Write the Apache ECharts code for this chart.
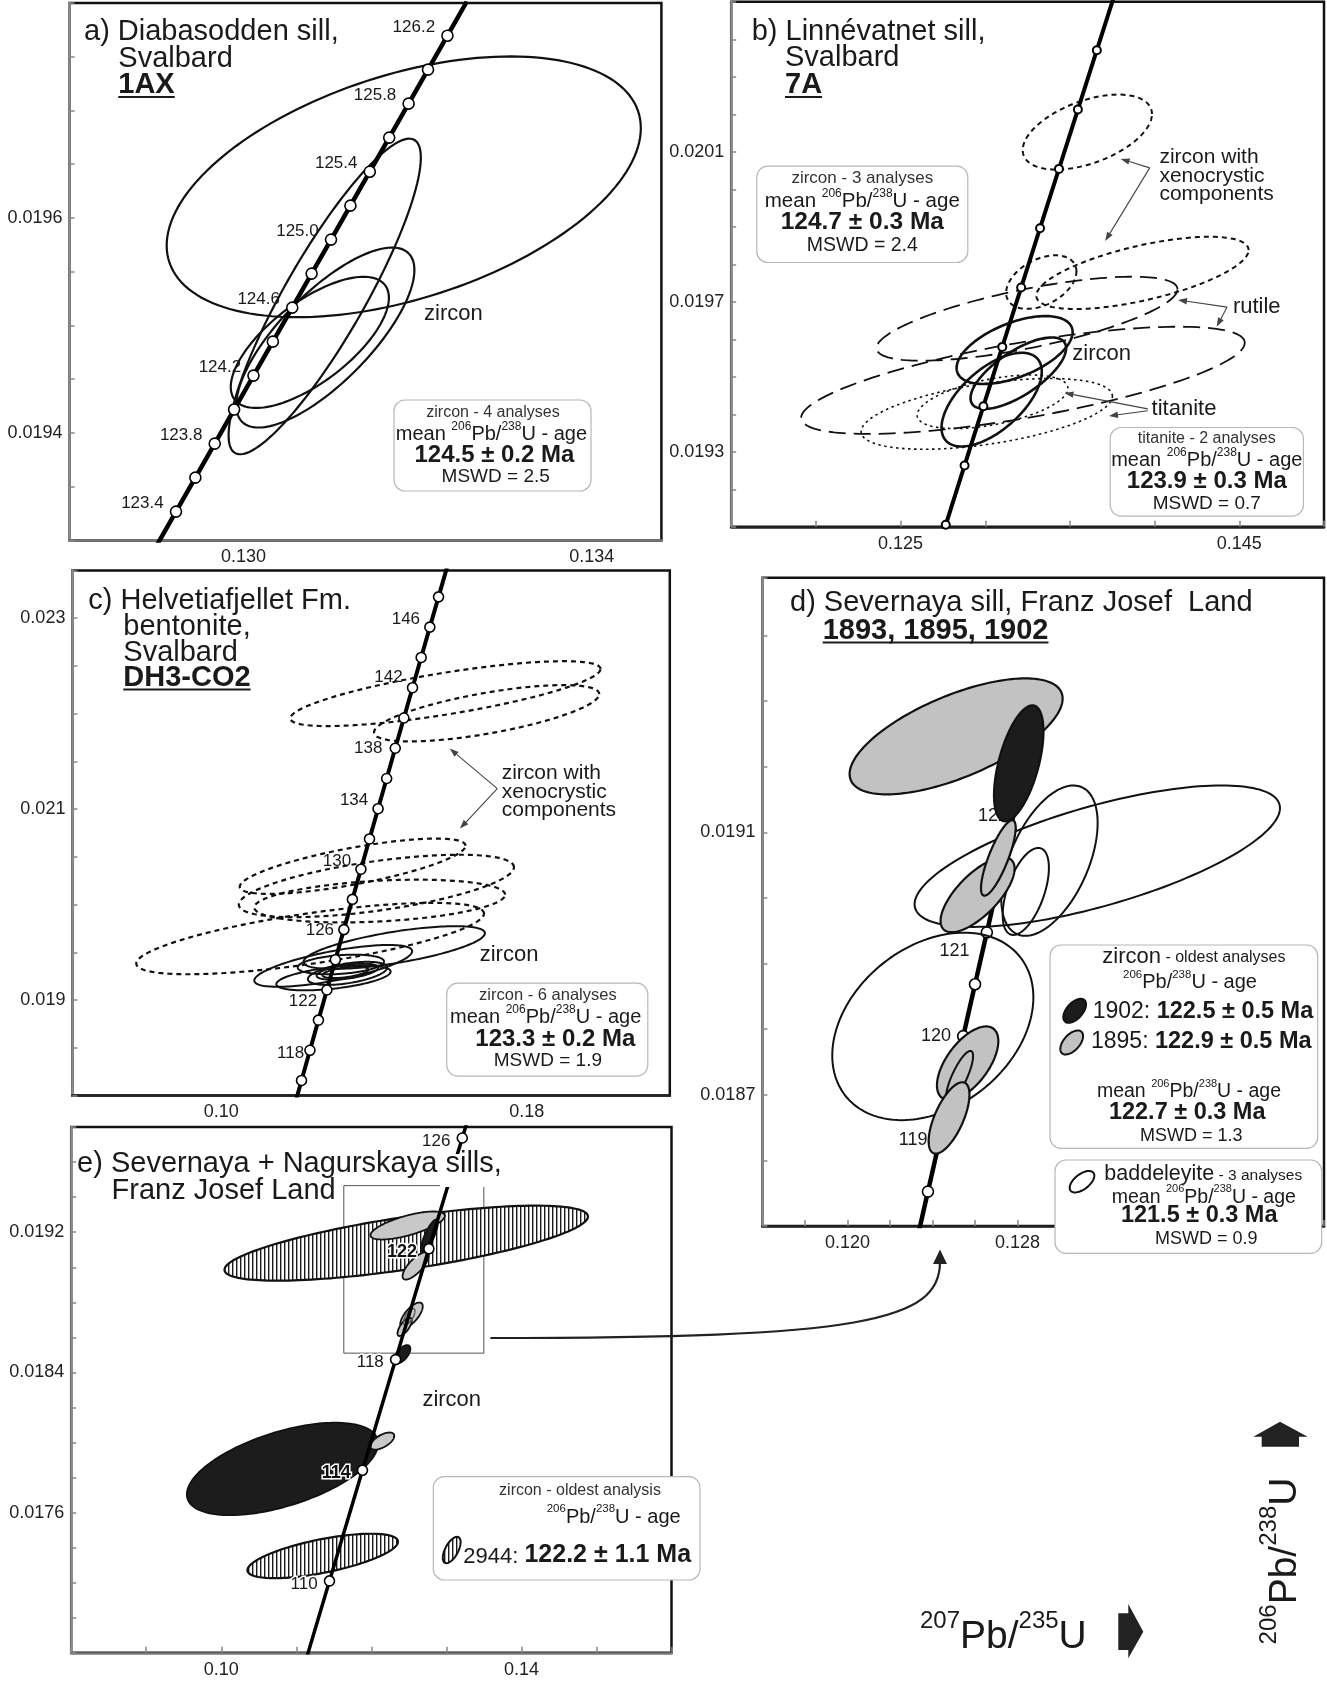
<!DOCTYPE html>
<html>
<head>
<meta charset="utf-8">
<title>U-Pb concordia diagrams</title>
<script src="https://cdn.jsdelivr.net/npm/echarts@6/dist/echarts.min.js"></script>
<style>
html,body{margin:0;padding:0;background:#ffffff;}
#chart{width:1327px;height:1682px;}
</style>
</head>
<body>
<div id="chart"></div>
<script>
// ======================= DATA =======================
// Concordia reference points: [age (Ma), 207Pb/235U, 206Pb/238U]
const concordiaA = [
  [123.2,0.1290012,0.0192952],[123.4,0.1292236,0.0193268],[123.6,0.1294460,0.0193584],
  [123.8,0.1296685,0.0193900],[124.0,0.1298911,0.0194217],[124.2,0.1301136,0.0194533],
  [124.4,0.1303363,0.0194849],[124.6,0.1305589,0.0195165],[124.8,0.1307816,0.0195482],
  [125.0,0.1310044,0.0195798],[125.2,0.1312272,0.0196114],[125.4,0.1314500,0.0196430],
  [125.6,0.1316729,0.0196747],[125.8,0.1318958,0.0197063],[126.0,0.1321188,0.0197379],
  [126.2,0.1323418,0.0197695],[126.4,0.1325649,0.0198013]
];
const markerAgesA = [123.4,123.6,123.8,124.0,124.2,124.4,124.6,124.8,125.0,125.2,125.4,125.6,125.8,126.0,126.2];
const labelAgesA = [123.4,123.8,124.2,124.6,125.0,125.4,125.8,126.2];

const concordiaB = [
  [121,0.1265577,0.0189474],[122,0.1276677,0.0191054],[123,0.1287789,0.0192636],
  [124,0.1298911,0.0194217],[125,0.1310044,0.0195798],[126,0.1321188,0.0197379],
  [127,0.1332343,0.0198962],[128,0.1343509,0.0200544],[129,0.1354686,0.0202127],
  [130,0.1365875,0.0203709],[131,0.1377073,0.0205292]
];
const markerAgesB = [122,123,124,125,126,127,128,129,130];
const labelAgesB = [];

const concordiaC = [
  [114,0.1188180,0.0178416],[116,0.1210239,0.0181574],[118,0.1232342,0.0184733],
  [120,0.1254487,0.0187893],[122,0.1276677,0.0191054],[124,0.1298911,0.0194217],
  [126,0.1321188,0.0197379],[128,0.1343509,0.0200544],[130,0.1365875,0.0203709],
  [132,0.1388284,0.0206875],[134,0.1410737,0.0210043],[136,0.1433235,0.0213211],
  [138,0.1455777,0.0216380],[140,0.1478363,0.0219550],[142,0.1500996,0.0222721],
  [144,0.1523671,0.0225893],[146,0.1546391,0.0229066],[148,0.1569156,0.0232240],
  [150,0.1591966,0.0235415]
];
const markerAgesC = [116,118,120,122,124,126,128,130,132,134,136,138,140,142,144,146,148];
const labelAgesC = [118,122,126,130,134,138,142,146];

const concordiaD = [
  [118,0.1232342,0.0184733],[118.5,0.1237874,0.0185523],[119,0.1243409,0.0186313],
  [119.5,0.1248947,0.0187103],[120,0.1254487,0.0187893],[120.5,0.1260031,0.0188684],
  [121,0.1265577,0.0189474],[121.5,0.1271126,0.0190264],[122,0.1276677,0.0191054],
  [122.5,0.1282231,0.0191845],[123,0.1287789,0.0192636]
];
const markerAgesD = [118.5,119,119.5,120,120.5,121,121.5,122,122.5,123];
const labelAgesD = [119,120,121,122];

const concordiaE = [
  [106,0.1100378,0.0165792],[110,0.1144192,0.0172102],[114,0.1188180,0.0178416],
  [118,0.1232342,0.0184733],[122,0.1276677,0.0191054],[126,0.1321188,0.0197379],
  [130,0.1365875,0.0203709]
];
const markerAgesE = [110,114,118,122,126];
const labelAgesE = [110,114,118,122,126];

// Error ellipses: [207Pb/235U centre, 206Pb/238U centre, x half-extent, y half-extent, error correlation]
const zirconA = [
  [0.131840,0.0196289,0.0027236,0.00012128,0.45],
  [0.130932,0.0195269,0.0011042,0.00014678,0.88],
  [0.130939,0.0194887,0.0010232,0.0000837,0.75],
  [0.130761,0.0194842,0.0009083,0.0000610,0.68]
];
const xenoZirconB = [
  [0.136027,0.0201526,0.003815,0.0001000,0.48],
  [0.139281,0.0197771,0.006267,0.0000963,0.63],
  [0.133308,0.0197526,0.002075,0.0000714,0.40]
];
const rutileB = [
  [0.132466,0.0196549,0.008884,0.0001120,0.70],
  [0.132226,0.0194906,0.013096,0.0001429,0.70]
];
const titaniteB = [
  [0.130089,0.0194011,0.007418,0.0000943,0.50],
  [0.130432,0.0194334,0.004452,0.0000714,0.50]
];
const zirconB = [
  [0.131733,0.0195714,0.003425,0.0000905,0.53],
  [0.131952,0.0195097,0.002822,0.0000952,0.70],
  [0.130377,0.0194391,0.002959,0.0001249,0.60]
];
const xenoZirconC = [
  [0.158721,0.0222099,0.040634,0.000340,0.76],
  [0.169510,0.0220045,0.029498,0.000295,0.68],
  [0.134409,0.0204018,0.029568,0.000290,0.74],
  [0.140634,0.0201953,0.036034,0.000327,0.60],
  [0.141498,0.0200370,0.032853,0.000224,0.30],
  [0.123274,0.0196442,0.045544,0.000374,0.70]
];
const zirconC = [
  [0.145302,0.0195500,0.023758,0.000224,0.67],
  [0.129326,0.0193580,0.020680,0.000219,0.70],
  [0.131331,0.0193726,0.011308,0.000103,0.30],
  [0.129394,0.0192324,0.014974,0.000131,0.50],
  [0.133060,0.0192795,0.010374,0.000121,0.50],
  [0.133060,0.0192973,0.008058,0.0000842,0.50],
  [0.132500,0.0192900,0.006000,0.0000600,0.50]
];
const baddeleyiteD = [
  [0.131754,0.0190636,0.0085944,0.0001078,0.68],
  [0.129503,0.0190568,0.0022675,0.0001146,0.50],
  [0.128391,0.0190099,0.0010870,0.0000663,0.54],
  [0.124017,0.0188041,0.0047303,0.0001429,0.31],
  [0.125274,0.0187276,0.0006369,0.0000391,0.80]
];
const zircon1895D = [
  [0.125113,0.0192463,0.0050106,0.0000884,0.65],
  [0.126123,0.0190048,0.0017410,0.0000571,0.70],
  [0.127100,0.0190609,0.0008153,0.0000575,0.80],
  [0.125656,0.0187480,0.0014437,0.0000561,0.60],
  [0.124781,0.0186646,0.0009597,0.0000544,0.65]
];
const zircon1902D = [
  [0.128059,0.0192052,0.0011635,0.0000884,0.55]
];
const zircon2944E = [
  [0.124648,0.0191377,0.0242202,0.000214,0.71],
  [0.113517,0.0173527,0.0100306,0.0001268,0.64]
];
const zircon1895E = [
  [0.124832,0.0192384,0.0049541,0.0000800,0.69],
  [0.125902,0.0190078,0.0017431,0.0000779,0.75],
  [0.125352,0.0187262,0.0014985,0.0000727,0.70],
  [0.124434,0.0186597,0.0009480,0.0000520,0.70],
  [0.121468,0.0180083,0.0015900,0.0000488,0.60]
];
const zircon1902E = [
  [0.127737,0.0191792,0.0011315,0.0000935,0.80],
  [0.124128,0.0185039,0.0010703,0.0000520,0.60],
  [0.108165,0.0178494,0.0127523,0.0002639,0.55]
];
const innerE = [
  [0.125046,0.0187169,0.0007645,0.0000468,0.70]
];
// Zoomed area of panel e shown in panel d: [x1, y1, x2, y2]
const insetE = [[0.11633,0.01851,0.13499,0.019466]];

// Tick labels
const xTicksA = ['0.130','0.134'];   const yTicksA = ['0.0194','0.0196'];
const xTicksB = ['0.125','0.145'];   const yTicksB = ['0.0193','0.0197','0.0201'];
const xTicksC = ['0.10','0.18'];     const yTicksC = ['0.019','0.021','0.023'];
const xTicksD = ['0.120','0.128'];   const yTicksD = ['0.0187','0.0191'];
const xTicksE = ['0.10','0.14'];     const yTicksE = ['0.0176','0.0184','0.0192'];

// ======================= LAYOUT / STYLE =======================
const FONT = "'Liberation Sans', Arial, Helvetica, sans-serif";
const grids = [
  {left:69.5, top:2.9,    width:591.9, height:537.5},
  {left:731.2, top:1.8,   width:593.5, height:525},
  {left:72.4, top:570.5,  width:597.4, height:525},
  {left:762.4, top:577.8, width:562.4, height:648.1},
  {left:71.2, top:1127.1, width:600.3, height:525.7}
];
const axisSpec = [
  {x:[0.128,0.1348,0.001],  xt:xTicksA, xTick:false, y:[0.0193,0.0198,0.00005], yt:yTicksA, bottom:'#777'},
  {x:[0.115,0.150,0.005],   xt:xTicksB, xTick:true,  y:[0.0191,0.0205,0.0001],  yt:yTicksB, bottom:'#222'},
  {x:[0.061,0.2175,0.001],  xt:xTicksC, xTick:false, y:[0.018,0.0235,0.0005],   yt:yTicksC, bottom:'#222'},
  {x:[0.116,0.14242,0.002], xt:xTicksD, xTick:true,  y:[0.0185,0.019488,0.0001],yt:yTicksD, bottom:'#222'},
  {x:[0.08,0.16,0.01],      xt:xTicksE, xTick:true,  y:[0.0168,0.0198,0.0002],  yt:yTicksE, bottom:'#777'}
];
// per-label nudges of the age labels (pixels)
const labelNudgeC = {118:[4,3], 122:[0,11], 126:[0,1], 130:[0,-8], 134:[0,-8], 138:[-3,0], 142:[0,-10], 146:[0,-8]};
const labelNudgeD = {121:[-5,19], 122:[10,-13]};

function fmtTick(list, step) {
  return function (v) {
    for (let i = 0; i < list.length; i++) {
      if (Math.abs(v - parseFloat(list[i])) < step * 0.01) return list[i];
    }
    return '';
  };
}

const xAxes = [], yAxes = [];
axisSpec.forEach(function (s, i) {
  xAxes.push({
    type:'value', gridIndex:i, min:s.x[0], max:s.x[1], interval:s.x[2],
    axisLine:{show:true, onZero:false, lineStyle:{color:s.bottom, width:2.5}},
    axisTick:{show:s.xTick, inside:true, length:6, lineStyle:{color:'#888', width:1.5}},
    splitLine:{show:false},
    axisLabel:{show:true, formatter:fmtTick(s.xt, s.x[2]), color:'#222', fontSize:18, fontFamily:FONT, margin:8, hideOverlap:false}
  });
  yAxes.push({
    type:'value', gridIndex:i, min:s.y[0], max:s.y[1], interval:s.y[2],
    axisLine:{show:true, onZero:false, lineStyle:{color:'#8c8c8c', width:2.5}},
    axisTick:{show:true, inside:true, length:5, lineStyle:{color:'#888', width:1.5}},
    splitLine:{show:false},
    axisLabel:{show:true, formatter:fmtTick(s.yt, s.y[2]), color:'#222', fontSize:18, fontFamily:FONT, margin:7, hideOverlap:false}
  });
});

// hatch pattern for sample 2944
const hatch = document.createElement('canvas');
hatch.width = 4; hatch.height = 4;
(function () {
  const c = hatch.getContext('2d');
  c.fillStyle = '#ffffff'; c.fillRect(0, 0, 4, 4);
  c.fillStyle = '#1a1a1a'; c.fillRect(0, 0, 1.4, 4);
})();
const hatchFill = {image: hatch, repeat: 'repeat'};

function ellSeries(i, data, style, z) {
  return {
    type:'custom', xAxisIndex:i, yAxisIndex:i, z:z, silent:true, clip:true, animation:false,
    data:data, encode:{x:0, y:1},
    renderItem:function (params, api) {
      const cx = api.value(0), cy = api.value(1), sx = api.value(2), sy = api.value(3), r = api.value(4);
      const k = Math.sqrt(1 - r * r), pts = [];
      for (let j = 0; j < 160; j++) {
        const t = j / 160 * 2 * Math.PI;
        pts.push(api.coord([cx + sx * Math.cos(t), cy + sy * (r * Math.cos(t) + k * Math.sin(t))]));
      }
      return {type:'polygon', shape:{points:pts}, style:Object.assign({fill:'none', stroke:'#111', lineWidth:2}, style)};
    }
  };
}

function concSeries(i, conc, markers, labels, st) {
  const line = {
    type:'line', xAxisIndex:i, yAxisIndex:i, z:st.z, silent:true, animation:false, clip:true,
    data:conc.map(function (p) { return [p[1], p[2]]; }),
    showSymbol:false, symbol:'none', lineStyle:{color:'#000', width:st.lw}
  };
  const pts = conc.filter(function (p) { return markers.indexOf(p[0]) >= 0; })
                  .map(function (p) {
                    const v = [p[1], p[2], p[0]];
                    if (st.nudge && st.nudge[p[0]]) return {value:v, label:{offset:st.nudge[p[0]]}};
                    return v;
                  });
  const scat = {
    type:'scatter', xAxisIndex:i, yAxisIndex:i, z:st.z + 1, silent:true, animation:false, clip:true,
    data:pts, symbol:'circle', symbolSize:st.ms,
    itemStyle:{color:'#fff', borderColor:'#000', borderWidth:st.bw, opacity:1},
    label:{
      show:true, position:'left', distance:st.dist, offset:st.off,
      fontFamily:FONT, fontSize:st.fs, color:'#1a1a1a',
      textBorderColor:st.halo ? '#fff' : 'transparent', textBorderWidth:st.halo ? 3 : 0,
      rich:{b:{fontFamily:FONT, fontSize:st.fs + 1, fontWeight:'bold', color:'#111', textBorderColor:'#fff', textBorderWidth:3}},
      formatter:function (p) {
        const a = p.value[2];
        if (labels.indexOf(a) < 0) return '';
        const s = a.toFixed(st.dec);
        return (st.boldAges && st.boldAges.indexOf(a) >= 0) ? '{b|' + s + '}' : s;
      }
    }
  };
  return [line, scat];
}

const series = [];
// panel a
series.push(ellSeries(0, zirconA, {lineWidth:2.2}, 3));
series.push.apply(series, concSeries(0, concordiaA, markerAgesA, labelAgesA, {z:5, lw:4.5, ms:11, bw:1.6, fs:17, dist:6, off:[0,-8], dec:1}));
// panel b
series.push(ellSeries(1, xenoZirconB, {lineWidth:2, lineDash:[5,4]}, 3));
series.push(ellSeries(1, rutileB, {lineWidth:1.8, lineDash:[17,8]}, 3));
series.push(ellSeries(1, titaniteB, {lineWidth:1.6, lineDash:[2.5,3.5]}, 3));
series.push(ellSeries(1, zirconB, {lineWidth:2.6}, 3));
series.push.apply(series, concSeries(1, concordiaB, markerAgesB, labelAgesB, {z:5, lw:4, ms:8, bw:2, fs:16, dist:5, off:[0,0], dec:0}));
// panel c
series.push(ellSeries(2, xenoZirconC, {lineWidth:2.2, lineDash:[5,4]}, 3));
series.push(ellSeries(2, zirconC, {lineWidth:2}, 3));
series.push.apply(series, concSeries(2, concordiaC, markerAgesC, labelAgesC, {z:5, lw:4, ms:10, bw:1.6, fs:17, dist:4, off:[0,0], dec:0, nudge:labelNudgeC}));
// panel d (concordia beneath the ellipses)
series.push.apply(series, concSeries(3, concordiaD, markerAgesD, labelAgesD, {z:1, lw:4.5, ms:11, bw:1.6, fs:18, dist:6, off:[0,0], dec:0, nudge:labelNudgeD}));
series.push(ellSeries(3, baddeleyiteD.slice(0, 4), {lineWidth:2}, 3));
series.push(ellSeries(3, zircon1895D.slice(0, 1), {lineWidth:2.2, fill:'#c2c2c2'}, 4));
series.push(ellSeries(3, zircon1902D, {lineWidth:2.2, fill:'#1c1c1c'}, 5));
series.push(ellSeries(3, zircon1895D.slice(1, 4), {lineWidth:2.2, fill:'#c2c2c2'}, 6));
series.push(ellSeries(3, baddeleyiteD.slice(4), {lineWidth:2}, 7));
series.push(ellSeries(3, zircon1895D.slice(4), {lineWidth:2.2, fill:'#c2c2c2'}, 8));
// panel e
series.push({
  type:'custom', xAxisIndex:4, yAxisIndex:4, z:2, silent:true, animation:false, data:insetE,
  renderItem:function (params, api) {
    const p1 = api.coord([api.value(0), api.value(3)]);
    const p2 = api.coord([api.value(2), api.value(1)]);
    return {type:'rect', shape:{x:p1[0], y:p1[1], width:p2[0] - p1[0], height:p2[1] - p1[1]},
            style:{fill:'none', stroke:'#555', lineWidth:1}};
  }
});
series.push(ellSeries(4, zircon2944E, {lineWidth:2.2, fill:hatchFill}, 3));
series.push(ellSeries(4, zircon1895E.slice(0, 1), {lineWidth:1.8, fill:'#c8c8c8'}, 4));
series.push(ellSeries(4, zircon1902E, {lineWidth:1.8, fill:'#1c1c1c'}, 5));
series.push(ellSeries(4, zircon1895E.slice(1), {lineWidth:1.8, fill:'#c8c8c8'}, 6));
series.push(ellSeries(4, innerE, {lineWidth:1.4, stroke:'#555'}, 7));
series.push.apply(series, concSeries(4, concordiaE, markerAgesE, labelAgesE, {z:8, lw:3.5, ms:10, bw:1.6, fs:17, dist:6, off:[0,3], dec:0, halo:true, boldAges:[114,122]}));

// ======================= ANNOTATIONS =======================
const G = [];
const mctx = document.createElement('canvas').getContext('2d');
function tw(text, size, weight) { mctx.font = (weight || 'normal') + ' ' + size + 'px ' + FONT; return mctx.measureText(text).width; }
function T(x, y, text, o) {
  o = o || {};
  const fs = o.fs || 18, fw = o.fw || 'normal', al = o.al || 'left';
  G.push({type:'text', x:x, y:y, z:o.z || 52, silent:true,
    style:{text:text, fill:o.c || '#1a1a1a', font:fw + ' ' + fs + 'px ' + FONT, fontSize:fs, fontFamily:FONT, fontWeight:fw,
      align:al, textAlign:al, verticalAlign:'middle', textVerticalAlign:'middle', rich:o.rich}});
}
function U(x, y, w) { G.push({type:'line', z:52, silent:true, shape:{x1:x, y1:y, x2:x + w, y2:y}, style:{stroke:'#1a1a1a', lineWidth:2}}); }
function BOX(x, y, w, h) { G.push({type:'rect', z:50, silent:true, shape:{x:x, y:y, width:w, height:h, r:11}, style:{fill:'#fff', stroke:'#b8b8b8', lineWidth:1.2}}); }
function ARROW(x1, y1, x2, y2) {
  const a = Math.atan2(y2 - y1, x2 - x1), L = 9, W = 3.2;
  const bx = x2 - L * Math.cos(a), by = y2 - L * Math.sin(a), px = -Math.sin(a), py = Math.cos(a);
  G.push({type:'line', z:52, silent:true, shape:{x1:x1, y1:y1, x2:bx, y2:by}, style:{stroke:'#444', lineWidth:1.1}});
  G.push({type:'polygon', z:52, silent:true, shape:{points:[[x2, y2], [bx + px * W, by + py * W], [bx - px * W, by - py * W]]}, style:{fill:'#444'}});
}
function ellPts(cx, cy, a, b, deg) {
  const th = deg * Math.PI / 180, pts = [];
  for (let j = 0; j < 60; j++) {
    const t = j / 60 * 2 * Math.PI;
    pts.push([cx + a * Math.cos(t) * Math.cos(th) - b * Math.sin(t) * Math.sin(th),
              cy - (a * Math.cos(t) * Math.sin(th) + b * Math.sin(t) * Math.cos(th))]);
  }
  return pts;
}
function SYM(cx, cy, a, b, deg, fill) {
  G.push({type:'polygon', z:53, silent:true, shape:{points:ellPts(cx, cy, a, b, deg)}, style:{fill:fill, stroke:'#111', lineWidth:2}});
}
function richSet(fm, fs, fb) {
  return {
    m:{fontSize:fm, fontFamily:FONT, fill:'#1a1a1a', lineHeight:fm * 1.2, verticalAlign:'bottom'},
    s:{fontSize:fs, fontFamily:FONT, fill:'#1a1a1a', lineHeight:fs, verticalAlign:'top'},
    b:{fontSize:fb || fm, fontFamily:FONT, fontWeight:'bold', fill:'#1a1a1a', lineHeight:(fb || fm) * 1.2, verticalAlign:'bottom'}
  };
}
function MEAN(x, y, fm, fs, prefix, al) {
  T(x, y, '{m|' + (prefix === undefined ? 'mean ' : prefix) + '}{s|206}{m|Pb/}{s|238}{m|U - age}', {al:al || 'center', rich:richSet(fm, fs)});
}
// big word followed by smaller words sharing one baseline
function PAIR(x, baseline, big, fb, small, fsm) {
  T(x, baseline - 0.3 * fb, big, {fs:fb});
  T(x + tw(big, fb), baseline - 0.33 * fsm, small, {fs:fsm});
}

// ---- panel a
T(84, 31.5, 'a) Diabasodden sill,', {fs:29});
T(118.3, 59.2, 'Svalbard', {fs:29});
T(118.3, 84.8, '1AX', {fs:29, fw:'bold'}); U(118.3, 97, tw('1AX', 29, 'bold'));
T(424, 314, 'zircon', {fs:22});
BOX(394, 400, 197, 91);
T(493, 412.5, 'zircon - 4 analyses', {fs:16, al:'center', c:'#333'});
MEAN(491.4, 432.5, 20, 12);
T(494.4, 455.5, '124.5 ± 0.2 Ma', {fs:24, fw:'bold', al:'center'});
T(495.7, 477, 'MSWD = 2.5', {fs:19, al:'center'});

// ---- panel b
T(751.7, 32, 'b) Linnévatnet sill,', {fs:29});
T(785, 58, 'Svalbard', {fs:29});
T(785, 84.5, '7A', {fs:29, fw:'bold'}); U(785, 97, tw('7A', 29, 'bold'));
BOX(756.8, 166.1, 211, 96.4);
T(862.3, 178.6, 'zircon - 3 analyses', {fs:17, al:'center', c:'#333'});
MEAN(862.3, 200, 20.5, 12);
T(862.3, 222.1, '124.7 ± 0.3 Ma', {fs:24.5, fw:'bold', al:'center'});
T(862.3, 246, 'MSWD = 2.4', {fs:19.5, al:'center'});
BOX(1110.2, 427.5, 193.2, 88.6);
T(1206.8, 438.6, 'titanite - 2 analyses', {fs:16, al:'center', c:'#333'});
MEAN(1206.8, 458.9, 20, 12);
T(1206.8, 481.1, '123.9 ± 0.3 Ma', {fs:24, fw:'bold', al:'center'});
T(1206.8, 503.6, 'MSWD = 0.7', {fs:19, al:'center'});
T(1159.4, 157.1, 'zircon with', {fs:21});
T(1159.4, 176.1, 'xenocrystic', {fs:21});
T(1159.4, 194.6, 'components', {fs:21});
ARROW(1149.7, 167.9, 1120.7, 158.9);
ARROW(1149.7, 167.9, 1105.2, 241.1);
T(1232.9, 307.1, 'rutile', {fs:22});
ARROW(1227.1, 307.1, 1178, 300);
ARROW(1227.1, 307.1, 1216.7, 326.8);
T(1072.3, 353.6, 'zircon', {fs:22});
T(1151.6, 408.9, 'titanite', {fs:22});
ARROW(1147.8, 408.9, 1064.5, 392.9);
ARROW(1147.8, 410.7, 1109, 416);

// ---- panel c
T(88.3, 601, 'c) Helvetiafjellet Fm.', {fs:29});
T(123.3, 627, 'bentonite,', {fs:29});
T(123.3, 652.5, 'Svalbard', {fs:29});
T(123.3, 677.5, 'DH3-CO2', {fs:29, fw:'bold'}); U(123.3, 689.5, tw('DH3-CO2', 29, 'bold'));
T(501.7, 773.6, 'zircon with', {fs:21});
T(501.7, 792.1, 'xenocrystic', {fs:21});
T(501.7, 810, 'components', {fs:21});
ARROW(497.3, 788.6, 449.7, 748.6);
ARROW(497.3, 788.6, 459.9, 828.6);
T(479.7, 954.6, 'zircon', {fs:22});
BOX(446.7, 983.2, 201.1, 92.9);
T(547.9, 995, 'zircon - 6 analyses', {fs:16.5, al:'center', c:'#333'});
MEAN(545.7, 1015.4, 20, 12);
T(555.3, 1039.6, '123.3 ± 0.2 Ma', {fs:24, fw:'bold', al:'center'});
T(547.9, 1060.7, 'MSWD = 1.9', {fs:19, al:'center'});

// ---- panel d
T(790, 603, 'd) Severnaya sill, Franz Josef  Land', {fs:29});
T(822.7, 630.5, '1893, 1895, 1902', {fs:29, fw:'bold'}); U(822.7, 642.5, tw('1893, 1895, 1902', 29, 'bold'));
BOX(1050, 945, 267.7, 203.3);
PAIR(1102.3, 963.3, 'zircon', 22, ' - oldest analyses', 16);
MEAN(1190, 980.5, 20, 11.5, '');
SYM(1074.7, 1010.8, 14.5, 8, 48, '#1c1c1c');
T(1092.7, 1009, '{m|1902: }{b|122.5 ± 0.5 Ma}', {rich:richSet(23, 12, 23.5)});
SYM(1071.7, 1042.5, 14.5, 8, 48, '#c2c2c2');
T(1091, 1039.5, '{m|1895: }{b|122.9 ± 0.5 Ma}', {rich:richSet(23, 12, 23.5)});
MEAN(1189, 1090, 19.5, 11);
T(1187.2, 1112.5, '122.7 ± 0.3 Ma', {fs:23.5, fw:'bold', al:'center'});
T(1191.3, 1136, 'MSWD = 1.3', {fs:18, al:'center'});
BOX(1055, 1160, 266.7, 93.3);
SYM(1082, 1181.7, 14.5, 7.5, 38, '#ffffff');
PAIR(1104.3, 1181, 'baddeleyite', 21.5, ' - 3 analyses', 15.5);
MEAN(1203.8, 1195.5, 19.5, 11);
T(1199.2, 1215.5, '121.5 ± 0.3 Ma', {fs:23.5, fw:'bold', al:'center'});
T(1206.2, 1238.6, 'MSWD = 0.9', {fs:18, al:'center'});

// ---- panel e
G.push({type:'rect', z:40, silent:true, shape:{x:440, y:1154, width:72, height:33}, style:{fill:'#fff'}});
T(77.1, 1164, 'e) Severnaya + Nagurskaya sills,', {fs:29});
T(111.6, 1191, 'Franz Josef Land', {fs:29});
T(422.4, 1400, 'zircon', {fs:22});
BOX(433.3, 1476.7, 266.7, 103.3);
T(580, 1490.5, 'zircon - oldest analysis', {fs:16, al:'center', c:'#333'});
MEAN(546.7, 1515, 20, 11.5, '', 'left');
SYM(451.7, 1550, 14.5, 6.5, 62, hatchFill);
T(463.3, 1553, '{m|2944: }{b|122.2 ± 1.1 Ma}', {rich:richSet(22, 12, 25)});

// connector from panel e inset to panel d
G.push({type:'bezierCurve', z:45, silent:true,
  shape:{x1:490.4, y1:1338, cpx1:860, cpy1:1338, cpx2:940, cpy2:1322, x2:940, y2:1262},
  style:{stroke:'#222', lineWidth:2.2, fill:'none'}});
G.push({type:'polygon', z:45, silent:true, shape:{points:[[940, 1249.5], [933, 1264], [947, 1264]]}, style:{fill:'#222'}});

// axis titles (bottom right)
G.push({type:'text', x:920, y:1633, z:52, silent:true,
  style:{text:'{s|207}{m|Pb/}{s|235}{m|U}', align:'left', textAlign:'left', verticalAlign:'middle', textVerticalAlign:'middle', rich:richSet(39, 24)}});
G.push({type:'polygon', z:52, silent:true, shape:{points:[[1118.3,1613.3],[1128.3,1613.3],[1128.3,1604],[1143.3,1631.7],[1128.3,1658.3],[1128.3,1650],[1118.3,1650]]}, style:{fill:'#222'}});
G.push({type:'text', x:1281, y:1561, z:52, silent:true, rotation:Math.PI / 2,
  style:{text:'{s|206}{m|Pb/}{s|238}{m|U}', align:'center', textAlign:'center', verticalAlign:'middle', textVerticalAlign:'middle', rich:richSet(39, 24)}});
G.push({type:'polygon', z:52, silent:true, shape:{points:[[1261.7,1446.7],[1261.7,1436.7],[1253.3,1436.7],[1280,1421.7],[1307.7,1436.7],[1299,1436.7],[1299,1446.7]]}, style:{fill:'#222'}});

// ======================= CHART =======================
const chart = echarts.init(document.getElementById('chart'), null, {renderer:'canvas', width:1327, height:1682});
chart.setOption({
  animation:false,
  backgroundColor:'#ffffff',
  grid:grids.map(function (g) {
    return {left:g.left, top:g.top, width:g.width, height:g.height, show:true, borderColor:'#111', borderWidth:2.5, backgroundColor:'transparent', containLabel:false};
  }),
  xAxis:xAxes,
  yAxis:yAxes,
  series:series,
  graphic:{elements:G}
});
</script>
</body>
</html>
